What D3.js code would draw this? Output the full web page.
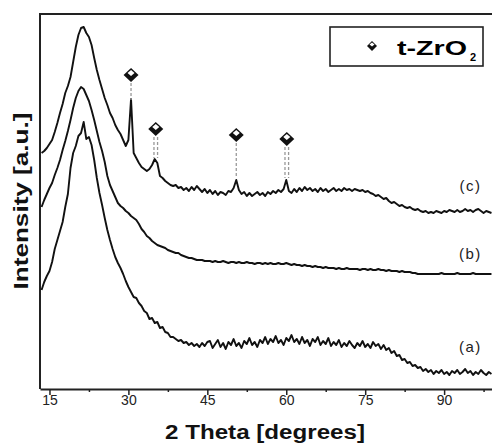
<!DOCTYPE html>
<html>
<head>
<meta charset="utf-8">
<script src="https://cdn.jsdelivr.net/npm/d3@7"></script>
<style>
  body { margin: 0; background: #fff; }
  svg { display: block; font-family: "Liberation Sans", Arial, sans-serif; }
</style>
</head>
<body>
<div id="main"></div>
<script>
var width = 492, height = 448;

// scan grid: 13.5 .. 99 deg, 0.5 deg step
var twoTheta = d3.range(13.5, 99.25, 0.5);

var sampleA = [
  99,107,113,118,127,140,149,158,167,182,
  195,221,236,243,253,256,267,250,252,244,
  229,211,196,184,171,159,149,140,132,126,
  121,115,108,102,97,92,91,86,83,78,
  76,70,71,66,67,61,62,57,56,52,
  52,50,48,49,46,47,44,46,43,45,
  42,46,43,47,48,41,45,49,42,46,
  40,47,44,50,43,46,41,48,45,51,
  44,47,42,49,46,52,45,50,47,53,
  46,49,44,51,48,54,47,50,45,52,
  46,49,43,50,47,52,44,48,45,51,
  43,47,44,49,42,46,43,48,44,41,
  46,43,48,42,45,41,47,43,45,40,
  44,39,41,36,38,33,34,29,30,26,
  27,23,24,21,22,18,20,17,19,15,
  18,16,19,15,17,14,18,16,19,15,
  17,20,16,18,14,17,15,19,16,14,
  17,15
];

var sampleB = [
  182,189,195,201,206,214,221,229,239,248,
  258,269,281,291,298,302,300,294,288,279,
  269,258,247,238,227,213,204,198,192,186,
  183,181,178,176,173,171,169,165,160,157,
  153,151,148,146,144,143,142,141,139,138,
  137,136,136,134,133,132,131,131,130,129,
  129,129,128,128,128,127,128,127,127,128,
  127,126,127,127,126,127,126,126,127,126,
  126,125,126,126,125,126,125,126,125,125,
  126,125,125,126,125,124,125,124,124,123,
  124,123,123,122,123,122,122,121,122,121,
  121,121,120,121,120,120,121,120,120,120,
  120,119,120,120,119,120,119,119,120,119,
  119,118,119,118,118,118,117,118,117,117,
  117,116,116,115,115,115,115,115,115,115,
  115,115,116,115,115,115,115,115,116,115,
  115,115,115,115,116,115,115,115,115,115,
  115,115
];

var sampleC = [
  236,238,241,245,249,257,266,276,285,296,
  303,312,327,342,354,361,362,356,352,344,
  331,319,309,300,291,284,276,271,264,259,
  255,249,243,249,290,236,231,226,222,220,
  218,220,224,230,226,213,211,208,206,204,
  203,204,201,202,199,201,198,202,199,203,
  200,197,200,196,199,195,198,194,197,196,
  194,198,197,201,209,199,195,197,193,196,
  193,195,197,194,196,193,197,195,198,196,
  199,197,200,209,198,196,200,197,201,198,
  202,199,201,198,200,197,201,198,200,197,
  199,201,198,200,198,201,199,200,198,200,
  199,198,199,197,198,196,195,193,194,192,
  190,191,188,186,187,185,183,184,182,181,
  182,180,179,180,178,177,178,176,177,176,
  178,177,176,178,177,179,178,177,179,177,
  178,180,178,179,177,179,180,178,176,178,
  177,176
];

var curveNames = ['(a)', '(b)', '(c)'];
var majorTicks = [15, 30, 45, 60, 75, 90];
var minorTicks = [22.5, 37.5, 52.5, 67.5, 82.5, 97.5];

// t-ZrO2 reflections
var zro2Theta = [30.5, 35.2, 50.5, 60.1];
var zro2Marker = [314, 260, 254, 250];
var zro2Peak = [289, 231, 211, 211];
var zro2Double = [false, true, false, true];

var labelTheta = 95;
var labelLevel = [37, 130, 198];

var x = d3.scaleLinear().domain([13.2, 99.1]).range([40, 492]);
var y = d3.scaleLinear().domain([0, 375]).range([389, 14]);

var svg = d3.select('#main').append('svg')
  .attr('width', width)
  .attr('height', height);

svg.append('rect').attr('width', width).attr('height', height).attr('fill', '#fff');

var diamond = function(w, h, cy) {
  return 'M0,' + (cy - h) + 'L' + w + ',' + cy + 'L0,' + (cy + h) + 'L' + (-w) + ',' + cy + 'Z';
};

// frame: left + top, bottom comes from the axis
svg.append('path')
  .attr('d', 'M' + x.range()[1] + ',' + y.range()[1] + 'H' + x.range()[0] + 'V' + y.range()[0])
  .attr('fill', 'none')
  .attr('stroke', '#222')
  .attr('stroke-width', 2);

var axis = svg.append('g')
  .attr('transform', 'translate(0,' + y.range()[0] + ')')
  .call(d3.axisBottom(x).tickValues(majorTicks).tickSize(6).tickSizeOuter(0).tickFormat(d3.format('d')));
axis.select('.domain').attr('stroke', '#222').attr('stroke-width', 2);
axis.selectAll('.tick line').attr('stroke', '#222').attr('stroke-width', 1.5);
axis.selectAll('.tick text')
  .attr('y', 16).attr('dy', 0)
  .attr('font-size', 14)
  .attr('font-family', '"Liberation Sans", Arial, sans-serif')
  .attr('fill', '#222');

var minor = svg.append('g')
  .attr('transform', 'translate(0,' + y.range()[0] + ')')
  .call(d3.axisBottom(x).tickValues(minorTicks).tickSize(3).tickFormat(''));
minor.select('.domain').remove();
minor.selectAll('.tick line').attr('stroke', '#222').attr('stroke-width', 1.5);

var line = d3.line()
  .x(function(d, i) { return x(twoTheta[i]); })
  .y(function(d) { return y(d); });

svg.selectAll('path.scan')
  .data([sampleA, sampleB, sampleC])
  .enter().append('path')
  .attr('class', 'scan')
  .attr('d', line)
  .attr('fill', 'none')
  .attr('stroke', '#111')
  .attr('stroke-width', 1.9)
  .attr('stroke-linejoin', 'round');

// dashed drop lines from markers to reflections
zro2Theta.forEach(function(t, i) {
  var offs = zro2Double[i] ? [-1.8, 1.8] : [0];
  offs.forEach(function(o) {
    svg.append('line')
      .attr('x1', x(t) + o).attr('x2', x(t) + o)
      .attr('y1', y(zro2Marker[i]) + 8).attr('y2', y(zro2Peak[i]))
      .attr('stroke', '#999')
      .attr('stroke-width', 1.3)
      .attr('stroke-dasharray', '3,2');
  });
});

var marks = svg.selectAll('g.zro2')
  .data(zro2Theta)
  .enter().append('g')
  .attr('class', 'zro2')
  .attr('transform', function(d, i) { return 'translate(' + x(d) + ',' + y(zro2Marker[i]) + ')'; });
marks.append('path').attr('d', diamond(7.5, 7, 0)).attr('fill', '#111');
marks.append('path').attr('d', diamond(3.5, 3, -2)).attr('fill', '#fff');

svg.selectAll('text.curve')
  .data(curveNames)
  .enter().append('text')
  .attr('class', 'curve')
  .attr('x', x(labelTheta))
  .attr('y', function(d, i) { return y(labelLevel[i]); })
  .attr('text-anchor', 'middle')
  .attr('font-size', 15)
  .attr('letter-spacing', 1.5)
  .attr('fill', '#222')
  .text(function(d) { return d; });

// legend
var legend = svg.append('g');
legend.append('rect')
  .attr('x', 330).attr('y', 27).attr('width', 153).attr('height', 39)
  .attr('fill', '#fff').attr('stroke', '#222').attr('stroke-width', 1.6);
legend.append('path')
  .attr('transform', 'translate(372,46)')
  .attr('d', diamond(5, 5, 0)).attr('fill', '#111');
legend.append('path')
  .attr('transform', 'translate(372,46)')
  .attr('d', diamond(2.5, 2, -1.5)).attr('fill', '#fff');
legend.append('text')
  .attr('x', 397).attr('y', 55)
  .attr('font-size', 21).attr('font-weight', 'bold')
  .attr('textLength', 70).attr('lengthAdjust', 'spacingAndGlyphs')
  .text('t-ZrO');
legend.append('text')
  .attr('x', 470).attr('y', 61)
  .attr('font-size', 11).attr('font-weight', 'bold')
  .text('2');

svg.append('text')
  .attr('x', 265).attr('y', 439)
  .attr('text-anchor', 'middle')
  .attr('font-size', 20).attr('font-weight', 'bold')
  .attr('textLength', 200).attr('lengthAdjust', 'spacingAndGlyphs')
  .attr('fill', '#111')
  .text('2 Theta [degrees]');

svg.append('text')
  .attr('transform', 'translate(28,201) rotate(-90)')
  .attr('text-anchor', 'middle')
  .attr('font-size', 20).attr('font-weight', 'bold')
  .attr('textLength', 177).attr('lengthAdjust', 'spacingAndGlyphs')
  .attr('fill', '#111')
  .text('Intensity [a.u.]');
</script>
</body>
</html>
